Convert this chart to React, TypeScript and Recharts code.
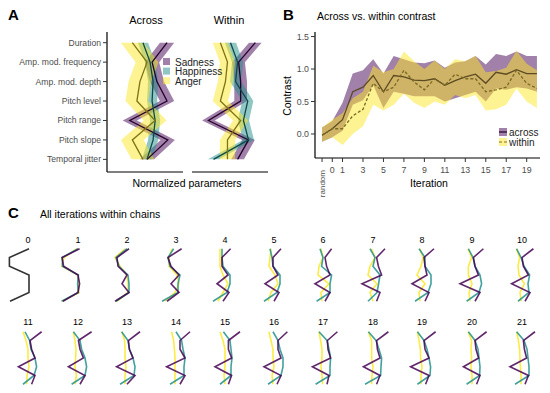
import React from "react";
import { ComposedChart, LineChart, Line, Area, XAxis, YAxis } from "recharts";

const FONT = "'Liberation Sans', Arial, Helvetica, sans-serif";

// ---- panel A ----
const params = [
  "Duration",
  "Amp. mod. frequency",
  "Amp. mod. depth",
  "Pitch level",
  "Pitch range",
  "Pitch slope",
  "Temporal jitter",
];
const emotions = ["Sadness", "Happiness", "Anger"];
const emoColors = ["#440154", "#21908C", "#FDE725"];

const acrossSad = [0.87, 0.28, 0.47, 0.87, -0.6, 0.9, 0.08];
const acrossHap = [-0.08, 0.2, 0.32, 0.28, 0.4, 0.32, 0.08];
const acrossAng = [-0.5, 0.08, -0.2, -0.32, 0.4, -0.5, -0.08];
const acrossSpread = [0.28, 0.2, 0.45];

const withinSad = [1.0, 0.34, 0.42, 0.42, -0.85, 0.73, 0.3];
const withinHap = [0.02, 0.3, 0.22, 0.7, 0.53, 0.73, -0.65];
const withinAng = [-0.38, -0.1, -0.18, -0.38, 0.42, -0.1, -0.1];
const withinSpread = [0.25, 0.22, 0.3];

// ---- panel B ----
const iterations = [-1, 0, 1, 2, 3, 4, 5, 6, 7, 8, 9, 10, 11, 12, 13, 14, 15, 16, 17, 18, 19, 20];
const iterTicks = [-1, 0, 1, 3, 5, 7, 9, 11, 13, 15, 17, 19];
const acrossMean = [-0.02, 0.08, 0.22, 0.65, 0.72, 0.9, 0.65, 0.9, 0.88, 0.83, 0.82, 0.85, 0.75, 0.82, 0.88, 0.92, 0.78, 0.95, 0.92, 0.99, 0.93, 0.93];
const acrossLo = [-0.12, -0.05, 0.05, 0.45, 0.52, 0.75, 0.4, 0.65, 0.62, 0.58, 0.58, 0.58, 0.5, 0.55, 0.6, 0.65, 0.5, 0.7, 0.68, 0.72, 0.7, 0.65];
const acrossHi = [0.1, 0.2, 0.48, 0.93, 0.98, 1.15, 0.93, 1.2, 1.15, 1.1, 1.09, 1.13, 1.02, 1.1, 1.12, 1.2, 1.07, 1.23, 1.2, 1.27, 1.2, 1.2];
const withinMean = [-0.02, 0.08, 0.08, 0.28, 0.38, 0.78, 0.65, 0.72, 0.98, 0.8, 0.68, 0.85, 0.75, 0.92, 0.85, 0.85, 0.65, 0.68, 0.72, 0.98, 0.78, 0.7];
const withinLo = [-0.12, -0.05, -0.17, 0.0, 0.12, 0.45, 0.36, 0.45, 0.62, 0.48, 0.4, 0.5, 0.45, 0.6, 0.55, 0.6, 0.36, 0.38, 0.45, 0.7, 0.5, 0.4];
const withinHi = [0.1, 0.22, 0.32, 0.55, 0.65, 1.05, 0.95, 1.0, 1.27, 1.12, 1.0, 1.13, 1.0, 1.15, 1.12, 1.2, 0.95, 0.97, 1.02, 1.28, 1.08, 0.98];

// ---- panel C ----
const startProfile = [0.05, -0.93, -0.93, 0.05, 0.05, 0.05, -0.9];
// iterations 1..21
const sadIter = [
  [0.08, -0.8, -0.72, 0.0, 0.08, 0.0, -0.75],
  [0.1, -0.5, -0.45, 0.0, -0.25, 0.1, -0.6],
  [0.28, -0.4, -0.25, 0.15, -0.25, 0.15, -0.45],
  [0.28, -0.15, -0.15, 0.15, -0.4, 0.2, -0.1],
  [0.35, -0.05, -0.05, 0.2, -0.45, 0.25, 0.0],
  [0.43, 0.1, 0.18, 0.35, -0.4, 0.35, 0.1],
  [0.6, 0.18, 0.27, 0.43, -0.55, 0.35, 0.18],
  [0.6, 0.1, 0.15, 0.25, -0.5, 0.35, 0.15],
  [0.57, 0.07, 0.15, 0.32, -0.6, 0.4, 0.15],
  [0.57, 0.0, 0.07, 0.32, -0.52, 0.4, 0.15],
  [0.68, 0.1, 0.18, 0.35, -0.48, 0.35, 0.18],
  [0.68, 0.02, 0.1, 0.27, -0.48, 0.35, 0.1],
  [0.65, 0.07, 0.12, 0.3, -0.52, 0.4, 0.0],
  [0.7, 0.2, 0.2, 0.45, -0.47, 0.45, 0.2],
  [0.75, 0.17, 0.17, 0.33, -0.5, 0.33, 0.17],
  [0.67, 0.2, 0.2, 0.35, -0.5, 0.35, 0.15],
  [0.72, 0.22, 0.25, 0.38, -0.53, 0.3, 0.2],
  [0.77, 0.18, 0.22, 0.35, -0.48, 0.35, 0.18],
  [0.68, 0.1, 0.15, 0.35, -0.57, 0.35, 0.18],
  [0.73, 0.15, 0.2, 0.33, -0.43, 0.4, 0.23],
  [0.65, 0.07, 0.12, 0.23, -0.6, 0.32, 0.15],
];
const hapIter = [
  [0.0, -0.78, -0.78, 0.02, -0.02, 0.02, -0.82],
  [0.0, -0.55, -0.4, 0.05, 0.1, 0.1, -0.55],
  [-0.12, -0.4, -0.3, 0.2, 0.1, 0.1, -0.7],
  [-0.15, -0.15, -0.1, 0.25, 0.25, 0.1, -0.6],
  [-0.2, -0.1, -0.05, 0.3, 0.3, 0.15, -0.5],
  [-0.15, 0.0, -0.07, 0.43, 0.35, 0.35, -0.32],
  [-0.15, 0.1, 0.0, 0.35, 0.28, 0.2, -0.25],
  [-0.15, 0.15, 0.15, 0.45, 0.45, 0.3, -0.35],
  [-0.18, 0.05, 0.15, 0.4, 0.48, 0.35, -0.27],
  [-0.27, -0.05, 0.1, 0.38, 0.3, 0.35, -0.2],
  [-0.15, 0.08, 0.15, 0.35, 0.43, 0.3, -0.25],
  [-0.23, 0.1, 0.18, 0.35, 0.43, 0.35, -0.32],
  [-0.27, 0.05, 0.12, 0.3, 0.4, 0.35, -0.35],
  [0.0, 0.28, 0.35, 0.45, 0.4, 0.4, -0.3],
  [-0.08, 0.25, 0.3, 0.35, 0.3, 0.3, -0.25],
  [-0.05, 0.2, 0.3, 0.45, 0.45, 0.35, -0.3],
  [-0.2, 0.2, 0.3, 0.38, 0.35, 0.35, -0.37],
  [-0.23, 0.15, 0.3, 0.43, 0.4, 0.38, -0.4],
  [-0.23, 0.1, 0.25, 0.35, 0.43, 0.4, -0.23],
  [-0.18, 0.15, 0.3, 0.35, 0.4, 0.38, -0.27],
  [-0.27, 0.1, 0.25, 0.3, 0.35, 0.35, -0.35],
];
const angIter = [
  [-0.05, -0.7, -0.8, 0.0, 0.0, 0.05, -0.8],
  [-0.1, -0.6, -0.35, 0.0, 0.05, 0.05, -0.5],
  [-0.2, -0.35, -0.35, 0.05, 0.15, -0.05, -0.55],
  [-0.25, -0.25, -0.25, -0.1, 0.15, -0.1, -0.35],
  [-0.15, -0.2, -0.25, 0.05, 0.2, -0.15, -0.3],
  [-0.1, 0.0, -0.2, -0.25, 0.3, -0.1, -0.05],
  [-0.08, 0.1, -0.15, -0.25, 0.2, -0.15, 0.0],
  [-0.1, 0.05, -0.05, -0.25, 0.15, -0.15, -0.1],
  [-0.2, -0.02, -0.18, -0.18, 0.0, -0.15, -0.1],
  [-0.28, -0.12, -0.2, -0.15, 0.12, -0.1, -0.05],
  [-0.25, -0.1, 0.0, 0.0, 0.05, -0.05, -0.07],
  [-0.23, -0.15, -0.1, -0.12, -0.15, -0.08, -0.15],
  [-0.25, -0.12, -0.1, -0.1, -0.05, -0.1, -0.1],
  [-0.22, -0.12, -0.08, -0.05, -0.05, -0.05, -0.05],
  [-0.25, -0.1, 0.0, 0.0, 0.0, -0.05, 0.0],
  [-0.25, -0.15, -0.05, -0.05, 0.0, -0.1, -0.05],
  [-0.2, -0.12, -0.05, -0.05, -0.1, -0.05, -0.02],
  [-0.23, -0.07, -0.07, -0.07, 0.0, -0.05, -0.07],
  [-0.23, -0.15, -0.08, -0.07, 0.0, -0.05, -0.05],
  [-0.2, -0.02, -0.05, -0.02, -0.05, 0.0, 0.0],
  [-0.27, -0.18, -0.12, -0.1, -0.08, -0.05, -0.05],
];

const band = (v: number, w: number) => [v - w, v + w];

function profileRows(s: number[], h: number[], a: number[], spread: number[]) {
  return params.map((p, i) => ({
    idx: i,
    s: s[i],
    h: h[i],
    a: a[i],
    sBand: band(s[i], spread[0]),
    hBand: band(h[i], spread[1]),
    aBand: band(a[i], spread[2]),
  }));
}

const rowsAcross = profileRows(acrossSad, acrossHap, acrossAng, acrossSpread);
const rowsWithin = profileRows(withinSad, withinHap, withinAng, withinSpread);

const rowsB = iterations.map((it, i) => ({
  iter: it,
  across: acrossMean[i],
  within: withinMean[i],
  acrossBand: [acrossLo[i], acrossHi[i]],
  withinBand: [withinLo[i], withinHi[i]],
}));

const axisStroke = "#000";
const tickFill = "#4d4d4d";
// mean lines are black under the translucent bands in the original
const lineShades = ["#22002a", "#104846", "#7e7312"];

const paramTick = (props: any) => {
  const { x, y, payload } = props;
  return (
    <text x={x} y={y + 3} textAnchor="end" fontSize={8.6} fill={tickFill} fontFamily={FONT}>
      {params[payload.value]}
    </text>
  );
};

function ProfilePanel({ rows, showY, left, width, marginLeft }: any) {
  return (
    <div style={{ position: "absolute", left, top: 0 }}>
      <ComposedChart
        layout="vertical"
        width={width}
        height={200}
        data={rows}
        margin={{ top: 32, right: 7, bottom: 27, left: marginLeft }}
      >
        <XAxis
          type="number"
          domain={[-1.5, 1.5]}
          allowDataOverflow
          tick={false}
          tickLine={false}
          height={1}
          axisLine={{ stroke: axisStroke, strokeWidth: 1.2 }}
        />
        <YAxis
          type="number"
          dataKey="idx"
          domain={[-0.55, 6.65]}
          ticks={[0, 1, 2, 3, 4, 5, 6]}
          interval={0}
          hide={!showY}
          width={100}
          tickSize={4}
          tick={paramTick}
          tickLine={{ stroke: "#333" }}
          axisLine={{ stroke: axisStroke, strokeWidth: 1.2 }}
        />
        {["sBand", "hBand", "aBand"].map((k, i) => (
          <Area
            key={k}
            dataKey={k}
            fill={emoColors[i]}
            fillOpacity={0.5}
            stroke="none"
            dot={false}
            activeDot={false}
            isAnimationActive={false}
          />
        ))}
        {["s", "h", "a"].map((k, i) => (
          <Line
            key={k}
            dataKey={k}
            stroke={lineShades[i]}
            strokeWidth={1.3}
            dot={false}
            activeDot={false}
            isAnimationActive={false}
          />
        ))}
      </ComposedChart>
    </div>
  );
}

const iterTick = (props: any) => {
  const { x, y, payload } = props;
  if (payload.value === -1) {
    return (
      <text
        x={x}
        y={y + 6}
        transform={`rotate(-90 ${x} ${y + 6})`}
        textAnchor="end"
        dominantBaseline="central"
        fontSize={8}
        fill={tickFill}
        fontFamily={FONT}
      >
        random
      </text>
    );
  }
  return (
    <text x={x} y={y + 9} textAnchor="middle" fontSize={8.8} fill={tickFill} fontFamily={FONT}>
      {payload.value}
    </text>
  );
};

function SmallProfile({ iter, left, top }: { iter: number; left: number; top: number }) {
  const rows = params.map((p, i) => ({
    idx: i,
    start: iter === 0 ? startProfile[i] : null,
    s: iter > 0 ? sadIter[iter - 1][i] : null,
    h: iter > 0 ? hapIter[iter - 1][i] : null,
    a: iter > 0 ? angIter[iter - 1][i] : null,
  }));
  return (
    <div style={{ position: "absolute", left, top }}>
      <LineChart layout="vertical" width={40} height={56} data={rows} margin={{ top: 0, right: 0, bottom: 0, left: 0 }}>
        <XAxis type="number" domain={[-1, 1]} hide allowDataOverflow />
        <YAxis type="number" dataKey="idx" domain={[-0.2, 6.2]} hide />
        {iter === 0 ? (
          <Line dataKey="start" stroke="#333" strokeWidth={1.6} dot={false} activeDot={false} isAnimationActive={false} />
        ) : (
          ["a", "h", "s"].map((k) => (
            <Line
              key={k}
              dataKey={k}
              stroke={emoColors[k === "s" ? 0 : k === "h" ? 1 : 2]}
              strokeOpacity={0.85}
              strokeWidth={1.6}
              dot={false}
              activeDot={false}
              isAnimationActive={false}
            />
          ))
        )}
      </LineChart>
    </div>
  );
}

const colCenters = [28, 78, 127, 176, 225, 274, 323, 373, 422, 472, 522];

export default function App() {
  const small = [];
  for (let it = 0; it <= 21; it++) {
    const row = it <= 10 ? 0 : 1;
    const col = it <= 10 ? it : it - 11;
    small.push({ it, cx: colCenters[col], top: row === 0 ? 247 : 330, ty: row === 0 ? 242.5 : 325 });
  }
  return (
    <div style={{ position: "absolute", left: 0, top: 0, width: 550, height: 393, background: "#fff", fontFamily: FONT }}>
      <ProfilePanel rows={rowsAcross} showY left={0} width={190} marginLeft={7} />
      <ProfilePanel rows={rowsWithin} showY={false} left={185} width={90} marginLeft={7} />

      <div style={{ position: "absolute", left: 270, top: 0 }}>
        <ComposedChart width={280} height={210} data={rowsB} margin={{ top: 32, right: 10, bottom: 0, left: 15 }}>
          <XAxis
            type="number"
            dataKey="iter"
            domain={[-1.69, 20.3]}
            allowDataOverflow
            ticks={iterTicks}
            interval={0}
            tick={iterTick}
            tickSize={4}
            height={52}
            tickLine={{ stroke: "#333" }}
            axisLine={{ stroke: axisStroke, strokeWidth: 1.2 }}
          />
          <YAxis
            type="number"
            domain={[-0.37, 1.57]}
            allowDataOverflow
            ticks={[0, 0.5, 1, 1.5]}
            tickFormatter={(v: number) => v.toFixed(1)}
            width={30}
            tickSize={4}
            tick={{ fontSize: 8.8, fill: tickFill, fontFamily: FONT }}
            tickLine={{ stroke: "#333" }}
            axisLine={{ stroke: axisStroke, strokeWidth: 1.2 }}
          />
          <Area dataKey="acrossBand" fill="#440154" fillOpacity={0.5} stroke="none" dot={false} activeDot={false} isAnimationActive={false} />
          <Area dataKey="withinBand" fill="#FDE725" fillOpacity={0.5} stroke="none" dot={false} activeDot={false} isAnimationActive={false} />
          <Line dataKey="across" stroke="#5c4a22" strokeWidth={1.3} dot={false} activeDot={false} isAnimationActive={false} />
          <Line dataKey="within" stroke="#7a6a24" strokeWidth={1.3} strokeDasharray="3 2" dot={false} activeDot={false} isAnimationActive={false} />
        </ComposedChart>
      </div>

      {small.map((s) => (
        <SmallProfile key={s.it} iter={s.it} left={s.cx - 20} top={s.top} />
      ))}

      <svg width={550} height={393} style={{ position: "absolute", left: 0, top: 0, pointerEvents: "none" }} fontFamily={FONT}>
        {/* panel A */}
        <text x={8} y={20} fontSize={15} fontWeight="bold">A</text>
        <text x={146} y={24} fontSize={11} textAnchor="middle">Across</text>
        <text x={229} y={24} fontSize={11} textAnchor="middle">Within</text>
        <text x={187} y={187} fontSize={10.5} textAnchor="middle">Normalized parameters</text>
        {emotions.map((e, i) => (
          <g key={e}>
            <rect x={163} y={58 + i * 9.6} width={7} height={7} fill={emoColors[i]} fillOpacity={0.5} />
            <text x={175} y={65.5 + i * 9.6} fontSize={10} fill="#222">{e}</text>
          </g>
        ))}

        {/* panel B */}
        <text x={283} y={20} fontSize={15} fontWeight="bold">B</text>
        <text x={317} y={20} fontSize={10.5}>Across vs. within contrast</text>
        <text x={0} y={0} fontSize={10.5} textAnchor="middle" transform="translate(291 96) rotate(-90)">Contrast</text>
        <text x={429} y={187} fontSize={10.5} textAnchor="middle">Iteration</text>
        <rect x={499} y={128} width={8} height={8} fill="#440154" fillOpacity={0.5} />
        <line x1={499} x2={507} y1={132} y2={132} stroke="#22002a" strokeWidth={1.2} />
        <text x={509} y={135.5} fontSize={10} fill="#222">across</text>
        <rect x={499} y={138} width={8} height={8} fill="#FDE725" fillOpacity={0.5} />
        <line x1={499} x2={507} y1={142} y2={142} stroke="#7e7312" strokeWidth={1.2} strokeDasharray="3 2" />
        <text x={509} y={145.5} fontSize={10} fill="#222">within</text>

        {/* panel C */}
        <text x={8} y={218} fontSize={15} fontWeight="bold">C</text>
        <text x={40} y={218} fontSize={10.5}>All iterations within chains</text>
        {small.map((s) => (
          <text key={s.it} x={s.cx} y={s.ty} fontSize={9} textAnchor="middle">{s.it}</text>
        ))}
      </svg>
    </div>
  );
}
